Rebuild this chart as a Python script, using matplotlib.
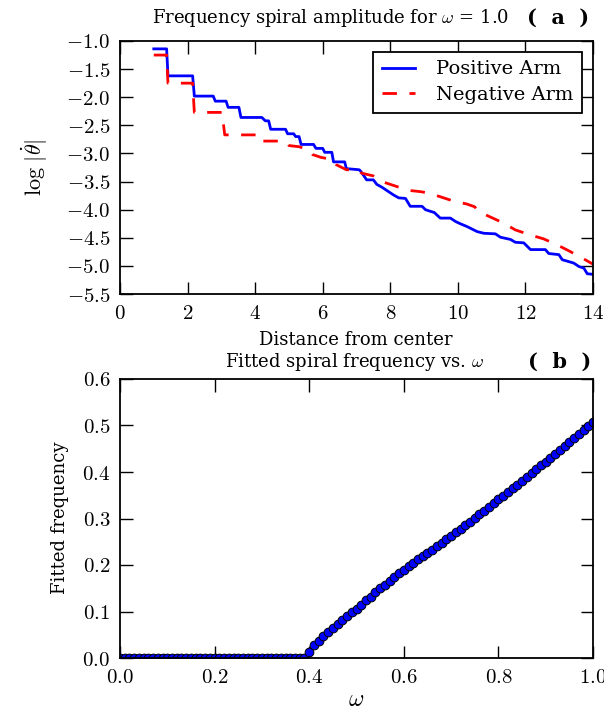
import matplotlib
matplotlib.use("Agg")
import matplotlib.pyplot as plt
from matplotlib.ticker import FuncFormatter, MultipleLocator
import numpy as np

plt.rcParams['mathtext.fontset'] = 'cm'
plt.rcParams['font.family'] = ['DejaVu Serif']

# ---- Panel (a) data: staircase vertices ----
pos_x = [1.0, 1.38, 1.42, 2.15, 2.2, 2.76, 2.82, 3.14, 3.2, 3.52, 3.58, 4.2, 4.3, 4.4, 4.46, 4.9,
         4.96, 5.14, 5.2, 5.3, 5.36, 5.73, 5.8, 6.0, 6.06, 6.27, 6.32, 6.65, 6.7, 7.08, 7.13, 7.3,
         7.5, 7.6, 7.75, 7.95, 8.1, 8.25, 8.45, 8.59, 8.94, 9.04, 9.19, 9.3, 9.48, 9.78, 9.93,
         10.07, 10.27, 10.47, 10.57, 10.77, 11.11, 11.26, 11.56, 11.7, 11.95, 12.15, 12.59,
         12.69, 12.99, 13.09, 13.43, 13.58, 13.73, 13.83, 14.0]
pos_y = [-1.14, -1.14, -1.62, -1.62, -1.98, -1.98, -2.07, -2.07, -2.18, -2.18, -2.36, -2.36,
         -2.42, -2.42, -2.57, -2.57, -2.65, -2.65, -2.70, -2.70, -2.84, -2.84, -2.91, -2.91,
         -2.98, -2.98, -3.15, -3.15, -3.27, -3.29, -3.32, -3.47, -3.47, -3.55, -3.60, -3.68,
         -3.74, -3.79, -3.80, -3.94, -3.94, -4.00, -4.03, -4.05, -4.15, -4.15, -4.21, -4.25,
         -4.30, -4.36, -4.39, -4.42, -4.43, -4.49, -4.53, -4.58, -4.59, -4.71, -4.71, -4.78,
         -4.80, -4.89, -4.95, -5.01, -5.04, -5.14, -5.15]

neg_x = [1.0, 1.38, 1.42, 2.15, 2.2, 3.02, 3.1, 4.1, 4.15, 4.9, 5.0, 5.3, 5.6, 5.7, 5.95, 6.3,
         6.4, 6.7, 7.05, 7.15, 7.5, 7.8, 8.2, 8.59, 8.9, 9.09, 9.48, 9.88, 10.27, 10.5, 10.6,
         10.96, 11.36, 11.7, 12.15, 12.54, 12.92, 13.31, 13.68, 14.0]
neg_y = [-1.25, -1.25, -1.75, -1.75, -2.27, -2.27, -2.67, -2.67, -2.78, -2.78, -2.86, -2.88,
         -2.94, -3.02, -3.07, -3.11, -3.20, -3.29, -3.29, -3.35, -3.40, -3.51, -3.59, -3.66,
         -3.68, -3.70, -3.77, -3.85, -3.90, -3.95, -4.03, -4.13, -4.24, -4.36, -4.45, -4.52,
         -4.62, -4.74, -4.86, -4.97]

# ---- Panel (b) data ----
omega = [round(0.01 * i, 2) for i in range(101)]
freq = [0.0] * 40 + [
    0.013, 0.027, 0.037, 0.047, 0.056, 0.065, 0.074, 0.082, 0.090, 0.098,
    0.106, 0.115, 0.124, 0.132, 0.141, 0.150, 0.158, 0.166, 0.174, 0.182,
    0.190, 0.197, 0.205, 0.212, 0.219, 0.226, 0.233, 0.241, 0.248, 0.256,
    0.263, 0.271, 0.278, 0.286, 0.293, 0.301, 0.309, 0.317, 0.325, 0.333,
    0.341, 0.349, 0.357, 0.365, 0.373, 0.381, 0.389, 0.397, 0.406, 0.414,
    0.422, 0.430, 0.439, 0.447, 0.456, 0.464, 0.473, 0.481, 0.490, 0.498,
    0.507]

fig = plt.figure(figsize=(6.04, 7.18), dpi=100)
W, H = 604.0, 718.0
ax1 = fig.add_axes([120 / W, 1 - 294 / H, 473 / W, 253 / H])
ax2 = fig.add_axes([120 / W, 1 - 658 / H, 473 / W, 279 / H])

TICKFS = 15

def style(ax):
    ax.tick_params(direction='in', which='major', length=9, width=1.0,
                   top=True, right=True, labelsize=TICKFS, pad=7)
    for s in ax.spines.values():
        s.set_linewidth(1.3)

ax1.plot(pos_x, pos_y, color='blue', lw=2, label='Positive Arm')
ax1.plot(neg_x, neg_y, color='red', lw=2, dashes=(5.2, 4.5), label='Negative Arm')
ax1.set_xlim(0, 14)
ax1.set_ylim(-5.5, -1.0)
ax1.xaxis.set_major_locator(MultipleLocator(2))
ax1.yaxis.set_major_locator(MultipleLocator(0.5))
ax1.xaxis.set_major_formatter(FuncFormatter(lambda v, p: '$%d$' % round(v)))
ax1.yaxis.set_major_formatter(FuncFormatter(lambda v, p: '$%.1f$' % v))
style(ax1)
leg = ax1.legend(loc='upper right', fontsize=14, fancybox=False, framealpha=1,
                 edgecolor='black', handlelength=1.7, borderpad=0.45,
                 handletextpad=1.1, labelspacing=0.4, borderaxespad=0.55)
leg.get_frame().set_linewidth(1.3)

ax2.plot(omega, freq, 'o', color='blue', markersize=6.3, markeredgecolor='black',
         markeredgewidth=0.7)
ax2.set_xlim(0, 1.0)
ax2.set_ylim(0, 0.6)
ax2.xaxis.set_major_locator(MultipleLocator(0.2))
ax2.yaxis.set_major_locator(MultipleLocator(0.1))
ax2.xaxis.set_major_formatter(FuncFormatter(lambda v, p: '$%.1f$' % v))
ax2.yaxis.set_major_formatter(FuncFormatter(lambda v, p: '$%.1f$' % v))
style(ax2)

LFS = 13
fig.text(330 / W, 1 - 18 / H, r'Frequency spiral amplitude for $\omega$ = 1.0',
         ha='center', va='center', fontsize=LFS)
fig.text(558 / W, 1 - 18 / H, '(  a  )', ha='center', va='center', fontsize=15,
         fontweight='bold')
fig.text(356 / W, 1 - 340 / H, 'Distance from center', ha='center', va='center',
         fontsize=LFS)
fig.text(35 / W, 1 - 168 / H, r'$\log\,|\dot{\theta}|$', ha='center', va='center',
         rotation=90, fontsize=16)
fig.text(354 / W, 1 - 362 / H, r'Fitted spiral frequency vs. $\omega$', ha='center',
         va='center', fontsize=LFS)
fig.text(560 / W, 1 - 362 / H, '(  b  )', ha='center', va='center', fontsize=15,
         fontweight='bold')
fig.text(60 / W, 1 - 518 / H, 'Fitted frequency', ha='center', va='center',
         rotation=90, fontsize=LFS)
fig.text(356 / W, 1 - 700 / H, r'$\omega$', ha='center', va='center', fontsize=17)

fig.savefig('out.png', dpi=100)
